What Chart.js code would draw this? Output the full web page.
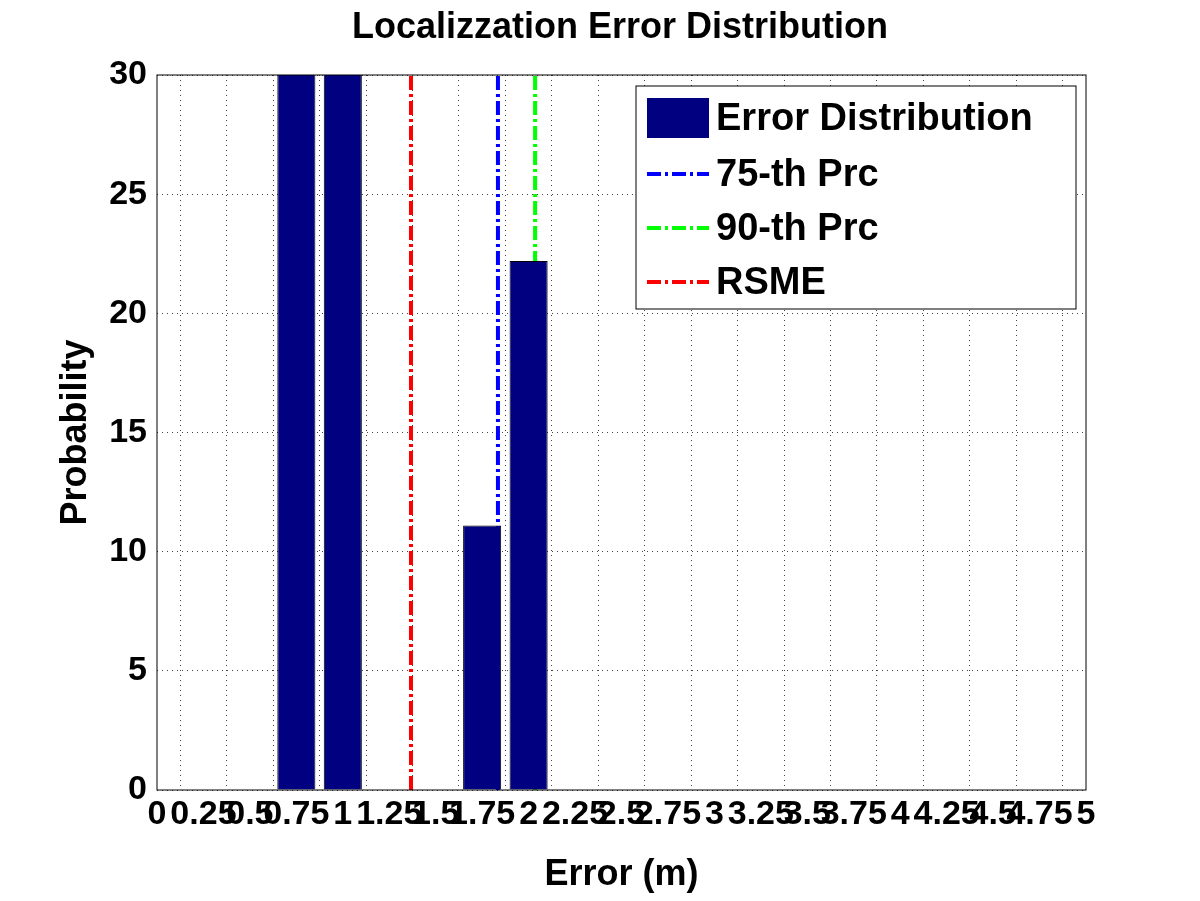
<!DOCTYPE html>
<html><head><script src="https://cdn.jsdelivr.net/npm/chart.js@4"></script>
<style>body{margin:0;background:#fff}#w{width:1200px;height:901px}</style></head>
<body><div id="w"><canvas id="c"></canvas></div>
<script>
const binCenters=[0.75,1.0,1.75,2.0];
const probability=[33.3,33.3,11.1,22.2];
const prc75=1.835, prc90=2.035, rsme=1.367;
const xTicks=[0,0.25,0.5,0.75,1,1.25,1.5,1.75,2,2.25,2.5,2.75,3,3.25,3.5,3.75,4,4.25,4.5,4.75,5];
const yTicks=[0,5,10,15,20,25,30];
const F='"Liberation Sans", Arial, sans-serif';
const vline=(x,c,l)=>({type:'line',label:l,data:[{x:x,y:0},{x:x,y:30}],borderColor:c,borderWidth:4,borderDash:[14,4,3,4],pointRadius:0,fill:false});
const deco={id:'deco',afterDraw(ch){const c=ch.ctx,a=ch.chartArea;c.save();
c.strokeStyle='#000';c.lineWidth=1;c.setLineDash([]);c.strokeRect(a.left,a.top,a.right-a.left,a.bottom-a.top);
c.fillStyle='#000';c.font='bold 36px '+F;c.textAlign='center';c.textBaseline='middle';
c.fillText('Localizzation Error Distribution',620,28);
c.fillStyle='#fff';c.fillRect(636,86,440,223);c.strokeRect(636,86,440,223);
c.fillStyle='#000080';c.fillRect(647,98,62,40);
const rows=[['Error Distribution',118,null],['75-th Prc',174,'#0000ff'],['90-th Prc',228,'#00ff00'],['RSME',282,'#ff0000']];
c.textAlign='left';c.font='bold 38px '+F;
rows.forEach(r=>{if(r[2]){c.strokeStyle=r[2];c.lineWidth=4;c.setLineDash([14,4,3,4]);c.beginPath();c.moveTo(647,r[1]);c.lineTo(709,r[1]);c.stroke();}
c.fillStyle='#000';c.fillText(r[0],716,r[1]+2);});
c.restore();}};
new Chart(document.getElementById('c'),{
data:{datasets:[
{type:'bar',label:'Error Distribution',data:binCenters.map((x,i)=>({x:x,y:probability[i]})),backgroundColor:'#000080',borderColor:'#000',borderWidth:1,barPercentage:0.82,categoryPercentage:1},
vline(prc75,'#0000ff','75-th Prc'),vline(prc90,'#00ff00','90-th Prc'),vline(rsme,'#ff0000','RSME')]},
options:{responsive:true,maintainAspectRatio:false,animation:false,
layout:{padding:{top:75,right:114,left:50,bottom:0}},
plugins:{legend:{display:false},tooltip:{enabled:false}},
scales:{
x:{type:'linear',offset:false,min:0,max:5,afterBuildTicks(s){s.ticks=xTicks.map(v=>({value:v}));},afterFit(s){s.height=111;},
ticks:{autoSkip:false,maxRotation:0,color:'#000',font:{family:F,size:34,weight:'bold'},padding:4,callback:v=>String(v)},
grid:{color:'#444',drawTicks:false},border:{display:false,dash:[1,4]},
title:{display:true,text:'Error (m)',color:'#000',font:{family:F,size:36,weight:'bold'},padding:{top:0}}},
y:{min:0,max:30,afterBuildTicks(s){s.ticks=yTicks.map(v=>({value:v}));},afterFit(s){s.width=107;},
ticks:{color:'#000',font:{family:F,size:34,weight:'bold'},padding:10},
grid:{color:'#444',drawTicks:false},border:{display:false,dash:[1,4]},
title:{display:true,text:'Probability',color:'#000',font:{family:F,size:36,weight:'bold'},padding:{bottom:4}}}}},
plugins:[deco]});
</script></body></html>
